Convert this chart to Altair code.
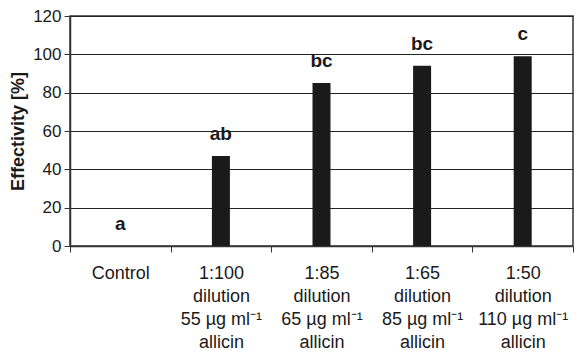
import altair as alt
import pandas as pd

categories = [
    "Control",
    "1:100\ndilution\n55 µg ml⁻¹\nallicin",
    "1:85\ndilution\n65 µg ml⁻¹\nallicin",
    "1:65\ndilution\n85 µg ml⁻¹\nallicin",
    "1:50\ndilution\n110 µg ml⁻¹\nallicin",
]
values = [0, 47, 85, 94, 99]
letters = ["a", "ab", "bc", "bc", "c"]

df = pd.DataFrame({"cat": categories, "val": values, "letter": letters})

FONT = "Liberation Sans"
INK = "#1a1a1a"

x = alt.X(
    "cat:N",
    sort=categories,
    title=None,
    scale=alt.Scale(paddingInner=0, paddingOuter=0),
    axis=alt.Axis(
        labelExpr="split(datum.label, '\\n')",
        labelAngle=0,
        labelFont=FONT,
        labelFontSize=18,
        labelColor=INK,
        labelLineHeight=23,
        labelPadding=12,
        labelBaseline="top",
        tickBand="extent",
        tickSize=6,
        tickColor="#333",
        domainColor="#333",
        domainWidth=1.5,
        labelOverlap=False,
        labelBound=False,
    ),
)

y = alt.Y(
    "val:Q",
    title="Effectivity [%]",
    scale=alt.Scale(domain=[0, 120], nice=False),
    axis=alt.Axis(
        values=[0, 20, 40, 60, 80, 100, 120],
        labelFont=FONT,
        labelFontSize=17,
        labelColor=INK,
        labelPadding=3,
        labelOverlap=False,
        labelFlush=False,
        tickSize=6,
        tickColor="#333",
        domainColor="#333",
        domainWidth=1.5,
        gridColor="#222",
        gridWidth=1,
        titleFont=FONT,
        titleFontSize=18,
        titleFontWeight="bold",
        titleColor=INK,
        titlePadding=5,
    ),
)

bars = alt.Chart(df).mark_bar(size=18, color=INK).encode(x=x, y=y)
text = alt.Chart(df).mark_text(
    baseline="bottom", dy=-12, font=FONT, fontSize=19, fontWeight="bold", color=INK
).encode(x=x, y=y, text="letter:N")

chart = (
    alt.layer(bars, text)
    .properties(
        width=503,
        height=230,
        autosize=alt.AutoSizeParams(type="none"),
        padding={"left": 62, "top": 8, "right": 1, "bottom": 110},
        background="white",
    )
    .configure_view(stroke="#333", strokeWidth=1.5)
)

chart.save("out.html", embed_options={"renderer": "svg", "actions": False})
